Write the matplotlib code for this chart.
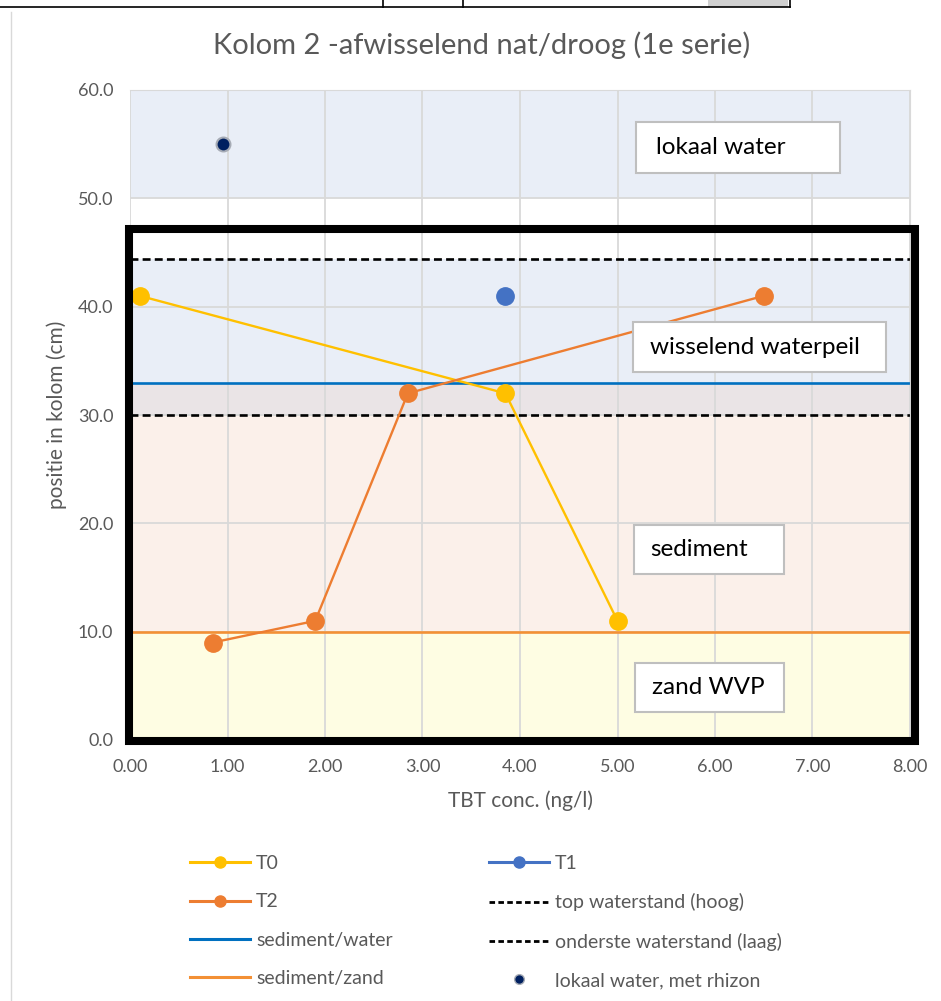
import matplotlib.pyplot as plt
from matplotlib.patches import Rectangle
from matplotlib.lines import Line2D

plt.rcParams['font.family'] = ['Lato', 'DejaVu Sans']

# series values
t0_x = [0.1, 3.85, 5.0]
t0_y = [41, 32, 11]
t1_x = [3.85]
t1_y = [41]
t2_x = [0.85, 1.9, 2.85, 6.5]
t2_y = [9, 11, 32, 41]
lokaal_x = [0.95]
lokaal_y = [55]

# horizontal reference levels
sediment_water = 33.0
sediment_zand = 10.0
top_waterstand = 44.4
onderste_waterstand = 30.0

# background zones (bottom, top, colour)
zones = [(0, 10, '#FEFDE3'), (10, 30, '#FBF0EA'), (30, 33, '#EAE4E6'),
         (33, 44.4, '#E9EEF7'), (50, 60, '#E9EEF7')]

x_ticks = [0, 1, 2, 3, 4, 5, 6, 7, 8]
y_ticks = [0, 10, 20, 30, 40, 50, 60]

# annotation boxes: label, x0, y0, x1, y1, text x
boxes = [('lokaal water', 5.185, 52.34, 7.277, 57.05, 5.40),
         ('wisselend waterpeil', 5.154, 33.97, 7.754, 38.58, 5.33),
         ('sediment', 5.17, 15.32, 6.71, 19.85, 5.34),
         ('zand WVP', 5.18, 2.58, 6.71, 7.11, 5.35)]

grey = '#595959'
c_t0 = '#FFC000'
c_t1 = '#4472C4'
c_t2 = '#ED7D31'
c_sw = '#0070C0'
c_sz = '#F39035'

fig = plt.figure(figsize=(9.41, 10.01), dpi=100)

# screenshot edges (table row at top, chart border)
fig.add_artist(Line2D([0, 790 / 941], [1 - 7 / 1001] * 2, color='black', lw=1.2))
for xp in [383, 463, 790]:
    fig.add_artist(Line2D([xp / 941] * 2, [1 - 7 / 1001, 1], color='black', lw=1.2))
fig.add_artist(Rectangle((708 / 941, 1 - 7 / 1001), 80 / 941, 7 / 1001,
                         transform=fig.transFigure, color='#D0D0D0', lw=0))
fig.add_artist(Line2D([11 / 941] * 2, [0, 1 - 12 / 1001], color='#D9D9D9', lw=1))

ax = fig.add_axes([130 / 941, 1 - 740 / 1001, 780 / 941, 650 / 1001])
ax.set_xlim(0, 8)
ax.set_ylim(0, 60)

for lo, hi, col in zones:
    ax.axhspan(lo, hi, color=col, lw=0, zorder=0.1)

ax.set_axisbelow(True)
ax.grid(True, color='#D9D9D9', lw=1.3)
for s in ax.spines.values():
    s.set_visible(False)
ax.spines['top'].set_visible(True)
ax.spines['top'].set_color('#D9D9D9')
ax.spines['right'].set_visible(True)
ax.spines['right'].set_color('#D9D9D9')

ax.set_xticks(x_ticks)
ax.set_yticks(y_ticks)
ax.set_xticklabels([f'{v:.2f}' for v in x_ticks])
ax.set_yticklabels([f'{v:.1f}' for v in y_ticks])
ax.tick_params(length=0, labelsize=13, labelcolor=grey)
ax.tick_params(axis='x', pad=14)
ax.tick_params(axis='y', pad=12)

ax.plot([0, 8], [top_waterstand] * 2, color='black', lw=1.9, ls=(0, (3, 1.6)), zorder=2)
ax.plot([0, 8], [onderste_waterstand] * 2, color='black', lw=1.9, ls=(0, (3, 1.6)), zorder=2)
ax.plot([0, 8], [sediment_water] * 2, color=c_sw, lw=1.9, zorder=2)
ax.plot([0, 8], [sediment_zand] * 2, color=c_sz, lw=1.9, zorder=2)

ax.plot(t0_x, t0_y, color=c_t0, lw=1.7, marker='o', ms=12.5, zorder=3)
ax.plot(t1_x, t1_y, color=c_t1, lw=1.7, marker='o', ms=12.5, zorder=3)
ax.plot(t2_x, t2_y, color=c_t2, lw=1.7, marker='o', ms=12.5, zorder=3)
ax.plot(lokaal_x, lokaal_y, ls='none', marker='o', ms=10, color='#002060',
        mec='#A6ABB5', mew=1.5, zorder=3)

# thick black frame drawn over the column part
ax.add_patch(Rectangle((-0.01, -0.05), 8.06, 47.25, fill=False, ec='black',
                       lw=5.8, clip_on=False, zorder=4))

for label, x0, y0, x1, y1, tx in boxes:
    ax.add_patch(Rectangle((x0, y0), x1 - x0, y1 - y0, fc='white', ec='#BFBFBF',
                           lw=1.5, zorder=5))
    ax.text(tx, (y0 + y1) / 2, label, fontsize=17.5, color='black',
            va='center', ha='left', zorder=6)

ax.set_xlabel('TBT conc. (ng/l)', fontsize=15, color=grey, labelpad=11)
ax.set_ylabel('positie in kolom (cm)', fontsize=15, color=grey, labelpad=8)
fig.text(482 / 941, 1 - 45 / 1001, 'Kolom 2 -afwisselend nat/droog (1e serie)',
         fontsize=21, color=grey, ha='center', va='center')

h = [Line2D([], [], color=c_t0, lw=2.2, marker='o', ms=8),
     Line2D([], [], color=c_t2, lw=2.2, marker='o', ms=8),
     Line2D([], [], color=c_sw, lw=2.2),
     Line2D([], [], color=c_sz, lw=2.2),
     Line2D([], [], color=c_t1, lw=2.2, marker='o', ms=8),
     Line2D([], [], color='black', lw=2, ls=(0, (2, 1.2))),
     Line2D([], [], color='black', lw=2, ls=(0, (2, 1.2))),
     Line2D([], [], ls='none', marker='o', ms=7, color='#002060', mec='#A6ABB5', mew=1)]
labels = ['T0', 'T2', 'sediment/water', 'sediment/zand', 'T1',
          'top waterstand (hoog)', 'onderste waterstand (laag)', 'lokaal water, met rhizon']
fig.legend(h, labels, ncol=2, loc='upper left', bbox_to_anchor=(190 / 941, 1 - 855 / 1001),
           frameon=False, fontsize=14, labelcolor=grey, handlelength=3.1,
           handletextpad=0.3, columnspacing=4.95, labelspacing=1.1, borderpad=0,
           borderaxespad=0)

fig.savefig('out.png', dpi=100)
